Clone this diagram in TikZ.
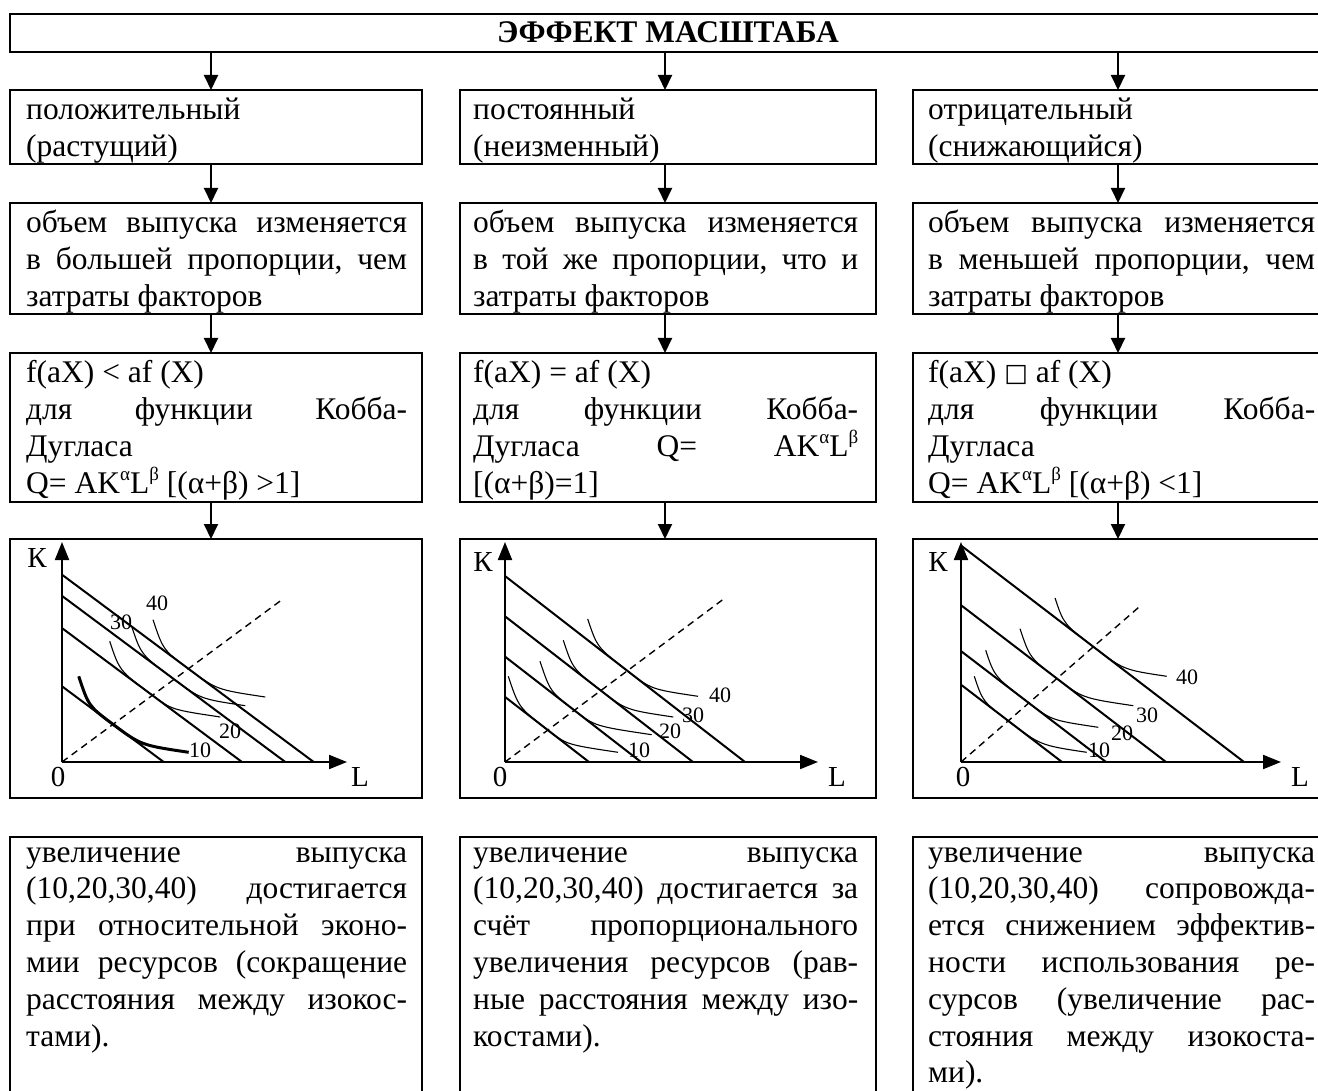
\documentclass[tikz,border=0pt]{standalone}
\usepackage{fontspec}
\setmainfont{Liberation Serif}
\newfontfamily\djv{DejaVu Sans}
\usetikzlibrary{arrows.meta}
\newcommand\J[1]{\hbox to\hsize{#1}}
\newcommand\R[1]{\hbox{#1}}
\newcommand\TXT[2]{\vtop{\hsize=#1pt\relax\baselineskip=36.8pt\lineskiplimit=-100pt\lineskip=0pt #2}}
\newcommand\sps[1]{\raisebox{0.42em}{\fontsize{19}{19}\selectfont #1}}
\newcommand\wsq{\raisebox{1pt}{\djv\fontsize{25}{25}\selectfont □}}
\begin{document}
\begin{tikzpicture}[x=1pt,y=-1pt,
  box/.style={draw, line width=2.3pt, rectangle, anchor=north west, inner sep=0pt, outer sep=0pt},
  arr/.style={line width=2pt, -{Triangle[width=14pt,length=15pt]}},
  txt/.style={anchor=base west, inner sep=0pt, font=\fontsize{31.5}{36.8}\selectfont},
  ttl/.style={anchor=base, inner sep=0pt, font=\fontsize{31.5}{36.8}\selectfont\bfseries},
  ax/.style={line width=2pt, -{Triangle[width=14pt,length=18pt]}},
  cost/.style={line width=2pt},
  ray/.style={line width=1.4pt, dash pattern=on 7pt off 5pt},
  quant/.style={line width=1.1pt},
  axl/.style={inner sep=0pt, font=\fontsize{29}{29}\selectfont},
  qlab/.style={inner sep=0pt, font=\fontsize{22}{22}\selectfont}]
\useasboundingbox[fill=white] (0,0) rectangle (1318,1091);

% arrow columns
\coordinate (a1) at (211,0);
\coordinate (a2) at (665,0);
\coordinate (a3) at (1118,0);

% boxes
\node[box, minimum width=1320pt, minimum height=38pt] (title) at (10,14) {};
\node[ttl] (ttext) at (668,43) {ЭФФЕКТ МАСШТАБА};

\node[box, minimum width=412pt, minimum height=74pt] (b11) at (10,90) {};
\node[box, minimum width=416pt, minimum height=74pt] (b12) at (460,90) {};
\node[box, minimum width=417pt, minimum height=74pt] (b13) at (913,90) {};

\node[box, minimum width=412pt, minimum height=111pt] (b21) at (10,203) {};
\node[box, minimum width=416pt, minimum height=111pt] (b22) at (460,203) {};
\node[box, minimum width=417pt, minimum height=111pt] (b23) at (913,203) {};

\node[box, minimum width=412pt, minimum height=149pt] (b31) at (10,353) {};
\node[box, minimum width=416pt, minimum height=149pt] (b32) at (460,353) {};
\node[box, minimum width=417pt, minimum height=149pt] (b33) at (913,353) {};

\node[box, minimum width=412pt, minimum height=259pt] (b41) at (10,539) {};
\node[box, minimum width=416pt, minimum height=259pt] (b42) at (460,539) {};
\node[box, minimum width=417pt, minimum height=259pt] (b43) at (913,539) {};

\node[box, minimum width=412pt, minimum height=270pt] (b51) at (10,837) {};
\node[box, minimum width=416pt, minimum height=270pt] (b52) at (460,837) {};
\node[box, minimum width=417pt, minimum height=270pt] (b53) at (913,837) {};

% connectors
\draw[arr] (title.south -| a1) -- (b11.north -| a1);
\draw[arr] (title.south -| a2) -- (b12.north -| a2);
\draw[arr] (title.south -| a3) -- (b13.north -| a3);
\draw[arr] (b11.south -| a1) -- (b21.north -| a1);
\draw[arr] (b12.south -| a2) -- (b22.north -| a2);
\draw[arr] (b13.south -| a3) -- (b23.north -| a3);
\draw[arr] (b21.south -| a1) -- (b31.north -| a1);
\draw[arr] (b22.south -| a2) -- (b32.north -| a2);
\draw[arr] (b23.south -| a3) -- (b33.north -| a3);
\draw[arr] (b31.south -| a1) -- (b41.north -| a1);
\draw[arr] (b32.south -| a2) -- (b42.north -| a2);
\draw[arr] (b33.south -| a3) -- (b43.north -| a3);

% row 1 texts
\node[txt] (t11) at (26,120) {\TXT{381}{\R{положительный}\R{(растущий)}}};
\node[txt] (t12) at (473,120) {\TXT{385}{\R{постоянный}\R{(неизменный)}}};
\node[txt] (t13) at (928,120) {\TXT{387}{\R{отрицательный}\R{(снижающийся)}}};

% row 2 texts
\node[txt] (t21) at (26,233) {\TXT{381}{\J{объем\hfill выпуска\hfill изменяется}\J{в\hfill большей\hfill пропорции,\hfill чем}\R{затраты факторов}}};
\node[txt] (t22) at (473,233) {\TXT{385}{\J{объем\hfill выпуска\hfill изменяется}\J{в\hfill той\hfill же\hfill пропорции,\hfill что\hfill и}\R{затраты факторов}}};
\node[txt] (t23) at (928,233) {\TXT{387}{\J{объем\hfill выпуска\hfill изменяется}\J{в\hfill меньшей\hfill пропорции,\hfill чем}\R{затраты факторов}}};

% row 3 texts
\node[txt] (t31) at (26,383) {\TXT{381}{\R{f(aX) < af (X)}\J{для\hfill функции\hfill Кобба-}\R{Дугласа}\R{Q= AK\sps{α}L\sps{β} [(α+β) >1]}}};
\node[txt] (t32) at (473,383) {\TXT{385}{\R{f(aX) = af (X)}\J{для\hfill функции\hfill Кобба-}\J{Дугласа\hfill Q=\hfill AK\sps{α}L\sps{β}}\R{[(α+β)=1]}}};
\node[txt] (t33) at (928,383) {\TXT{387}{\R{f(aX) \wsq\ af (X)}\J{для\hfill функции\hfill Кобба-}\R{Дугласа}\R{Q= AK\sps{α}L\sps{β} [(α+β) <1]}}};

% row 5 texts
\node[txt] (t51) at (26,862) {\TXT{381}{\J{увеличение\hfill выпуска}\J{(10,20,30,40)\hfill достигается}\J{при\hfill относительной\hfill эконо-}\J{мии\hfill ресурсов\hfill (сокращение}\J{расстояния\hfill между\hfill изокос-}\R{тами).}}};
\node[txt] (t52) at (473,862) {\TXT{385}{\J{увеличение\hfill выпуска}\J{(10,20,30,40)\hfill достигается\hfill за}\J{счёт\hfill пропорционального}\J{увеличения\hfill ресурсов\hfill (рав-}\J{ные\hfill расстояния\hfill между\hfill изо-}\R{костами).}}};
\node[txt] (t53) at (928,862) {\TXT{387}{\J{увеличение\hfill выпуска}\J{(10,20,30,40)\hfill сопровожда-}\J{ется\hfill снижением\hfill эффектив-}\J{ности\hfill использования\hfill ре-}\J{сурсов\hfill (увеличение\hfill рас-}\J{стояния\hfill между\hfill изокоста-}\R{ми).}}};

% ---------- graph 1 ----------
\begin{scope}[shift={(62,762)},yscale=-1]
\coordinate (o1) at (0,0);
\coordinate (k1) at (0,220);
\coordinate (l1) at (285,0);
\coordinate (r1) at (220,162.3);
\draw[ray] (o1) -- (r1);
\draw[cost] (0,75.7) -- (101.7,0);
\draw[cost] (0,133.9) -- (180,0);
\draw[cost] (0,166.1) -- (223.3,0);
\draw[cost] (0,187.3) -- (251.7,0);
\draw[quant, line width=3pt] (16.7,85.7) .. controls (26.7,55.8) .. (51.1,37.6) .. controls (79.1,16.8) .. (126.7,9.7);
\draw[quant] (47.7,120.7) .. controls (57.6,91.0) .. (90.4,66.7) .. controls (109.7,52.3) .. (158.3,45);
\draw[quant] (70,134.7) .. controls (79.15,107.25) .. (112.1,82.7) .. controls (138.6,63.0) .. (183.3,56.3);
\draw[quant] (91,142.3) .. controls (101.1,112.1) .. (126.4,93.3) .. controls (154.5,72.3) .. (203.3,65);
\draw[ax] (o1) -- (k1);
\draw[ax] (o1) -- (l1);
\end{scope}
\node[axl] (K1) at (37,558) {К};
\node[axl] (z1) at (58,777) {0};
\node[axl] (L1) at (360,777) {L};
\node[qlab] (q110) at (200,750) {10};
\node[qlab] (q120) at (230,731) {20};
\node[qlab] (q130) at (121,622) {30};
\node[qlab] (q140) at (157,603) {40};

% ---------- graph 2 ----------
\begin{scope}[shift={(505,762)},yscale=-1]
\coordinate (o2) at (0,0);
\coordinate (k2) at (0,220);
\coordinate (l2) at (313,0);
\coordinate (r2) at (220,164);
\draw[ray] (o2) -- (r2);
\draw[cost] (0,65.1) -- (84,0);
\draw[cost] (0,105.4) -- (136,0);
\draw[cost] (0,145.7) -- (188,0);
\draw[cost] (0,186) -- (240,0);
\draw[quant] (3.3,85.7) .. controls (13.7,54.5) .. (42.8,31.9) .. controls (61.5,17.4) .. (113,9.7);
\draw[quant] (35,100.7) .. controls (45.1,70.5) .. (69.4,51.7) .. controls (89.7,35.85) .. (146.7,27.3);
\draw[quant] (58.3,121.7) .. controls (67.8,93.1) .. (95.9,71.4) .. controls (120.8,52.1) .. (168.3,45);
\draw[quant] (82.7,143) .. controls (92.2,114.6) .. (122.4,91.2) .. controls (146.1,72.7) .. (193,65.7);
\draw[ax] (o2) -- (k2);
\draw[ax] (o2) -- (l2);
\end{scope}
\node[axl] (K2) at (483,562) {К};
\node[axl] (z2) at (500,777) {0};
\node[axl] (L2) at (837,777) {L};
\node[qlab] (q210) at (639,750) {10};
\node[qlab] (q220) at (670,731) {20};
\node[qlab] (q230) at (693,715) {30};
\node[qlab] (q240) at (720,695) {40};

% ---------- graph 3 ----------
\begin{scope}[shift={(961,762)},yscale=-1]
\coordinate (o3) at (0,0);
\coordinate (k3) at (0,220);
\coordinate (l3) at (320,0);
\coordinate (r3) at (180.7,157.3);
\draw[ray] (o3) -- (r3);
\draw[cost] (0,77.3) -- (101,0);
\draw[cost] (0,110.9) -- (145,0);
\draw[cost] (0,156.8) -- (205,0);
\draw[cost] (0,216.5) -- (283,0);
\draw[quant] (13.3,85.7) .. controls (21.6,60.7) .. (47.2,41.1) .. controls (79.2,16.7) .. (125.7,9.7);
\draw[quant] (24.7,111.7) .. controls (33.5,85.3) .. (67.8,59.1) .. controls (90.5,41.7) .. (137.3,34.7);
\draw[quant] (59,133.3) .. controls (68.7,104.3) .. (95.9,83.5) .. controls (121.4,63.9) .. (172.3,56.3);
\draw[quant] (94,164) .. controls (102.7,138.0) .. (132.3,115.3) .. controls (162.4,92.2) .. (205.7,85.7);
\draw[ax] (o3) -- (k3);
\draw[ax] (o3) -- (l3);
\end{scope}
\node[axl] (K3) at (938,562) {К};
\node[axl] (z3) at (963,777) {0};
\node[axl] (L3) at (1300,777) {L};
\node[qlab] (q310) at (1099,750) {10};
\node[qlab] (q320) at (1122,733) {20};
\node[qlab] (q330) at (1147,715) {30};
\node[qlab] (q340) at (1187,677) {40};
\end{tikzpicture}
\end{document}
